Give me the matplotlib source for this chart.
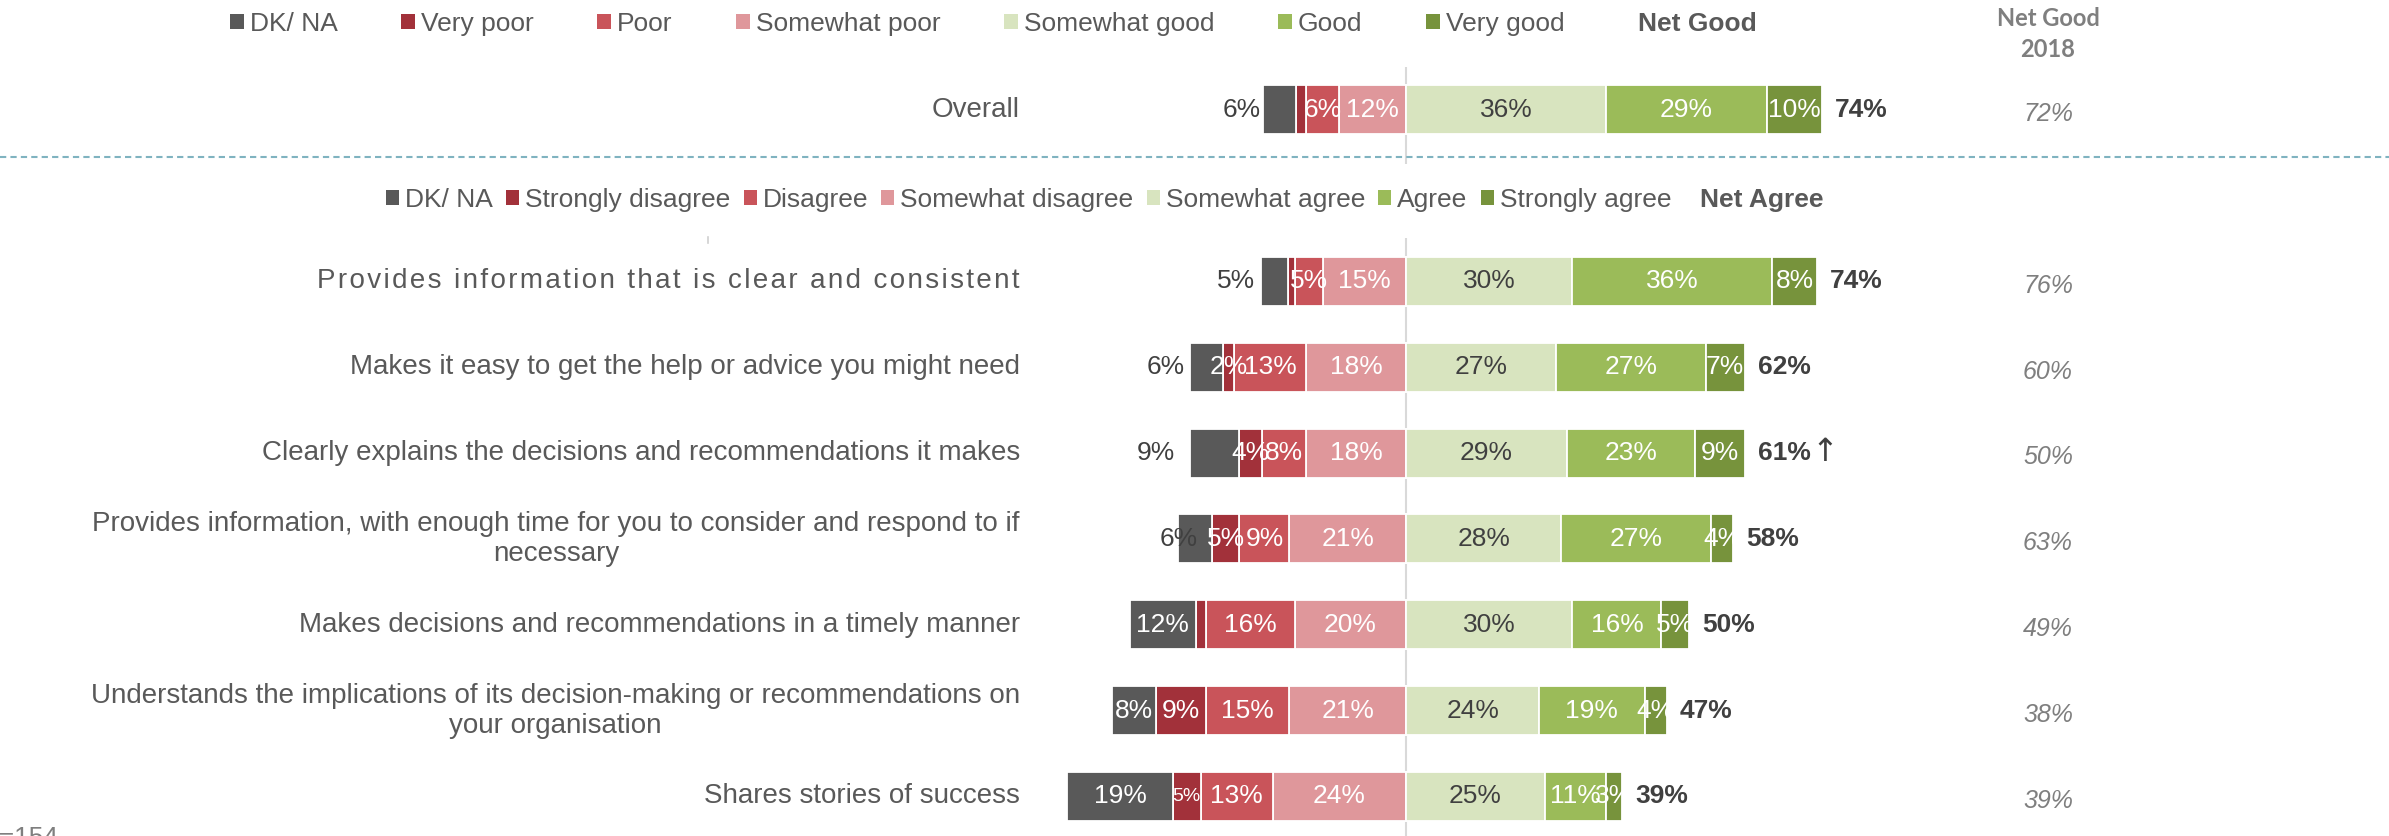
import matplotlib
matplotlib.use("Agg")
import matplotlib.pyplot as plt
from matplotlib.patches import Patch
from matplotlib.lines import Line2D

# ---------------------------------------------------------------- data
categories = [
    "Overall",
    "Provides information that is clear and consistent",
    "Makes it easy to get the help or advice you might need",
    "Clearly explains the decisions and recommendations it makes",
    "Provides information, with enough time for you to consider and respond to if\nnecessary",
    "Makes decisions and recommendations in a timely manner",
    "Understands the implications of its decision-making or recommendations on\nyour organisation",
    "Shares stories of success",
]
dk_na        = [6, 5, 6, 9, 6, 12, 8, 19]
strongly_neg = [1.8, 1.2, 2, 4, 5, 1.8, 9, 5]
neg          = [6, 5, 13, 8, 9, 16, 15, 13]
somewhat_neg = [12, 15, 18, 18, 21, 20, 21, 24]
somewhat_pos = [36, 30, 27, 29, 28, 30, 24, 25]
pos          = [29, 36, 27, 23, 27, 16, 19, 11]
strongly_pos = [10, 8, 7, 9, 4, 5, 4, 3]
net          = [74, 74, 62, 61, 58, 50, 47, 39]
net_change   = ["", "", "", "\u2191", "", "", "", ""]
net_2018     = [72, 76, 60, 50, 63, 49, 38, 39]

legend_good  = ["DK/ NA", "Very poor", "Poor", "Somewhat poor",
                "Somewhat good", "Good", "Very good"]
legend_agree = ["DK/ NA", "Strongly disagree", "Disagree", "Somewhat disagree",
                "Somewhat agree", "Agree", "Strongly agree"]

# ---------------------------------------------------------------- style
C_DK, C_SNEG, C_NEG, C_WNEG = "#595959", "#a2313a", "#c9545a", "#df979b"
C_WPOS, C_POS, C_SPOS = "#d8e4bf", "#9bbb59", "#77933c"
COLORS = [C_DK, C_SNEG, C_NEG, C_WNEG, C_WPOS, C_POS, C_SPOS]
TXT_DARK = "#404040"
TXT_GREY = "#595959"
TXT_LIGHT = "#7f7f7f"
FONT = ["Liberation Sans", "DejaVu Sans"]
plt.rcParams["font.family"] = FONT

W, H, DPI = 2389, 836, 100
PX_PER_PCT = 5.55      # horizontal scale
ZERO_PX = 1406         # position of the 0 % divider
ROW_PX = 85.83         # vertical distance between statements
ROW0_PX = 281.5        # centre of the first statement
BAR_H = 0.571
LABEL_WIDTH_PX = {1: 719}   # statements set with loose letter spacing

fig = plt.figure(figsize=(W / DPI, H / DPI), dpi=DPI)
ax = fig.add_axes([0, 0, 1, 1])
ax.set_xlim(-ZERO_PX / PX_PER_PCT, (W - ZERO_PX) / PX_PER_PCT)
ax.set_ylim((H - ROW0_PX) / ROW_PX, -ROW0_PX / ROW_PX)
ax.axis("off")
renderer = fig.canvas.get_renderer()


def ypx(p):
    """Vertical pixel position (from top) to row units."""
    return (p - ROW0_PX) / ROW_PX


def loosen(text_artist, target_px):
    """Spread the letters of a text with hair spaces to reach a width."""
    base = text_artist.get_text()
    w0 = text_artist.get_window_extent(renderer).width
    text_artist.set_text("\u200a".join(base))
    w1 = text_artist.get_window_extent(renderer).width
    step = max(w1 - w0, 1e-6)
    n = max(1, round((target_px - w0) / step))
    text_artist.set_text(("\u200a" * n).join(base))


y_pos = [-2] + list(range(len(categories) - 1))

# ---------------------------------------------------------------- divider lines
ax.vlines(0, ypx(67), ypx(164), color="#d9d9d9", lw=1.5, zorder=1)
ax.vlines(0, ypx(238), ypx(H + 5), color="#d9d9d9", lw=1.5, zorder=1)
fig.add_artist(Line2D([0, 1], [1 - 157 / H, 1 - 157 / H], color="#7fb3c0",
                      lw=1.5, ls=(0, (3, 2)), transform=fig.transFigure))
fig.add_artist(Line2D([708 / W, 708 / W], [1 - 237 / H, 1 - 243 / H],
                      color="#d0d0d0", lw=1.2, transform=fig.transFigure))

# ---------------------------------------------------------------- bars
neg_series = [("wneg", somewhat_neg, C_WNEG), ("neg", neg, C_NEG),
              ("sneg", strongly_neg, C_SNEG), ("dk", dk_na, C_DK)]
pos_series = [("wpos", somewhat_pos, C_WPOS, TXT_DARK),
              ("pos", pos, C_POS, "white"), ("spos", strongly_pos, C_SPOS, "white")]

dk_label_mode = ["out", "out", "out", "out", "edge", "in", "in", "in"]
dk_label_gap = [2, 6, 5, 15, 0, 0, 0, 0]       # pixels left of the bar start
small_labels = {(7, "sneg"): 14}

LBL_SIZE = 19
for i, y in enumerate(y_pos):
    left = 0.0
    for key, vals, col in neg_series:
        v = vals[i]
        left -= v
        ax.barh(y, v, left=left, height=BAR_H, color=col, edgecolor="white",
                linewidth=1.3, zorder=2)
        if v < 2:
            continue
        cx = left + v / 2
        txt = f"{v:.0f}%"
        if key == "dk":
            mode = dk_label_mode[i]
            if mode == "out":
                ax.annotate(txt, (left, y), xytext=(-dk_label_gap[i], 0),
                            textcoords="offset pixels", ha="right", va="center",
                            fontsize=LBL_SIZE, color=TXT_DARK, zorder=3)
            elif mode == "edge":
                ax.text(left, y, txt, ha="center", va="center",
                        fontsize=LBL_SIZE, color=TXT_DARK, zorder=3)
            else:
                ax.text(cx, y, txt, ha="center", va="center",
                        fontsize=LBL_SIZE, color="white", zorder=3)
        else:
            ax.text(cx, y, txt, ha="center", va="center",
                    fontsize=small_labels.get((i, key), LBL_SIZE),
                    color="white", zorder=3)
    right = 0.0
    for key, vals, col, tcol in pos_series:
        v = vals[i]
        ax.barh(y, v, left=right, height=BAR_H, color=col, edgecolor="white",
                linewidth=1.3, zorder=2)
        ax.text(right + v / 2, y, f"{v:.0f}%", ha="center", va="center",
                fontsize=LBL_SIZE, color=tcol, zorder=3)
        right += v
    net_txt = ax.annotate(f"{net[i]}%", (right, y), xytext=(13, 0),
                          textcoords="offset pixels", ha="left", va="center",
                          fontsize=LBL_SIZE, fontweight="bold", color=TXT_DARK)
    if net_change[i]:
        ax.annotate(net_change[i], xy=(1, 0.5), xycoords=net_txt,
                    xytext=(1, 1), textcoords="offset pixels",
                    ha="left", va="center", fontsize=23, color=TXT_DARK,
                    family="DejaVu Sans")
    ax.text((2048 - ZERO_PX) / PX_PER_PCT, y + 0.05, f"{net_2018[i]}%",
            ha="center", va="center", fontsize=18, style="italic",
            color=TXT_LIGHT)
    cat = ax.text((1020 - ZERO_PX) / PX_PER_PCT, y, categories[i], ha="right",
                  va="center", multialignment="center", fontsize=20,
                  color=TXT_GREY)
    if i in LABEL_WIDTH_PX:
        loosen(cat, LABEL_WIDTH_PX[i])

# ---------------------------------------------------------------- legends & headers
ax.text((2048 - ZERO_PX) / PX_PER_PCT, ypx(34), "Net Good\n2018", ha="center",
        va="center", fontsize=17, fontweight="bold", color=TXT_LIGHT,
        family="Lato", linespacing=1.45)

handles_good = [Patch(facecolor=c, label=l) for c, l in zip(COLORS, legend_good)]
leg1 = fig.legend(handles=handles_good, loc="center left", ncol=7,
                  bbox_to_anchor=(230 / W, 1 - 24 / H), frameon=False,
                  fontsize=19, handlelength=0.52, handleheight=0.52,
                  handletextpad=0.22, columnspacing=2.42, borderpad=0,
                  borderaxespad=0, labelcolor=TXT_GREY)
fig.text(1638 / W, 1 - 24 / H, "Net Good", ha="left", va="center",
         fontsize=19, fontweight="bold", color=TXT_GREY)

handles_agree = [Patch(facecolor=c, label=l) for c, l in zip(COLORS, legend_agree)]
leg2 = fig.legend(handles=handles_agree, loc="center left", ncol=7,
                  bbox_to_anchor=(386 / W, 1 - 200 / H), frameon=False,
                  fontsize=19, handlelength=0.5, handleheight=0.5,
                  handletextpad=0.22, columnspacing=0.5, borderpad=0,
                  borderaxespad=0, labelcolor=TXT_GREY)
fig.text(1700 / W, 1 - 200 / H, "Net Agree", ha="left", va="center",
         fontsize=19, fontweight="bold", color=TXT_GREY)

fig.text(-16 / W, 1 - 826 / H, "n=154", ha="left", va="top", fontsize=19,
         color=TXT_LIGHT)

fig.savefig("out.png", dpi=DPI)
